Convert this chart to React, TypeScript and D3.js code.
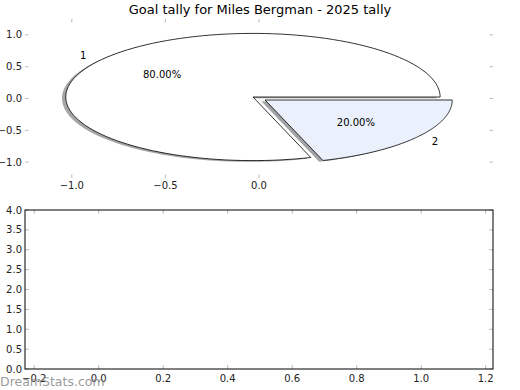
import * as d3 from 'd3';

const title = 'Goal tally for Miles Bergman - 2025 tally';
const sliceLabels = ['1', '2'];
const sliceValues = [4, 1];
const sliceColors = ['#ffffff', '#eaf0fc'];
const explode = [0.04, 0.04];

const pieXTicks = [-1.0, -0.5, 0.0];
const pieYTicks = [1.0, 0.5, 0.0, -0.5, -1.0];
const barXTicks = [-0.2, 0.0, 0.2, 0.4, 0.6, 0.8, 1.0, 1.2];
const barYTicks = [0.0, 0.5, 1.0, 1.5, 2.0, 2.5, 3.0, 3.5, 4.0];

const W = 520;
const H = 390;
const FONT = 'DejaVu Sans, sans-serif';
const TICK = '#bbbbbb';
const TXT = '#222222';

const top = { l: 25, r: 493, t: 19, b: 178 };
const bot = { l: 25, r: 493, t: 210, b: 369 };

function fmt(v: number) {
  return v.toFixed(1).replace('-', '\u2212');
}

function darker(c: string) {
  const col = d3.rgb(c);
  return d3.rgb(col.r * 0.3, col.g * 0.3, col.b * 0.3).toString();
}

export default function App() {
  const px = d3.scaleLinear().domain([-1.25, 1.25]).range([top.l, top.r]);
  const py = d3.scaleLinear().domain([-1.25, 1.25]).range([top.b, top.t]);
  const bx = d3.scaleLinear().domain([-0.2286, 1.2226]).range([bot.l, bot.r]);
  const by = d3.scaleLinear().domain([0, 4]).range([bot.b, bot.t]);

  const arcs = d3.pie<number>().sort(null).startAngle(0).endAngle(2 * Math.PI)(sliceValues);
  const total = d3.sum(sliceValues);

  const line = d3.line<[number, number]>()
    .x(d => px(d[0]))
    .y(d => py(d[1]));

  const wedges = arcs.map((a, i) => {
    const mid = (a.startAngle + a.endAngle) / 2;
    const ox = explode[i] * Math.cos(mid);
    const oy = explode[i] * Math.sin(mid);
    const pts: [number, number][] = [[ox, oy]];
    const n = 120;
    for (let k = 0; k <= n; k++) {
      const t = a.startAngle + (a.endAngle - a.startAngle) * k / n;
      pts.push([ox + Math.cos(t), oy + Math.sin(t)]);
    }
    const shadow = pts.map(p => [p[0] - 0.02, p[1] - 0.02] as [number, number]);
    return {
      d: line(pts) + 'Z',
      shadow: line(shadow) + 'Z',
      color: sliceColors[i],
      label: sliceLabels[i],
      lx: ox + 1.1 * Math.cos(mid),
      ly: oy + 1.1 * Math.sin(mid),
      pctx: ox + 0.6 * Math.cos(mid),
      pcty: oy + 0.6 * Math.sin(mid),
      pct: (100 * a.value / total).toFixed(2) + '%',
    };
  });

  return (
    <svg width={W} height={H} style={{ position: 'absolute', left: 0, top: 0, background: '#fff' }}>
      <rect width={W} height={H} fill="#fff" />
      <text x={W / 2} y={14} textAnchor="middle" fontFamily={FONT} fontSize={13} fill="#000">{title}</text>

      {/* pie axes: ticks only, no frame */}
      {pieXTicks.map(t => (
        <g key={'px' + t}>
          <line x1={px(t)} x2={px(t)} y1={top.t} y2={top.t + 3.5} stroke={TICK} strokeWidth={1} />
          <line x1={px(t)} x2={px(t)} y1={top.b} y2={top.b - 3.5} stroke={TICK} strokeWidth={1} />
          <text x={px(t)} y={top.b + 11} textAnchor="middle" fontFamily={FONT} fontSize={10} fill={TXT}>{fmt(t)}</text>
        </g>
      ))}
      {pieYTicks.map(t => (
        <g key={'py' + t}>
          <line x1={top.l} x2={top.l + 3.5} y1={py(t)} y2={py(t)} stroke={TICK} strokeWidth={1} />
          <line x1={top.r} x2={top.r - 3.5} y1={py(t)} y2={py(t)} stroke={TICK} strokeWidth={1} />
          <text x={top.l - 3} y={py(t)} dy="0.35em" textAnchor="end" fontFamily={FONT} fontSize={10} fill={TXT}>{fmt(t)}</text>
        </g>
      ))}

      {wedges.map((w, i) => (
        <path key={'s' + i} d={w.shadow} fill={darker(w.color)} fillOpacity={0.5} stroke="none" />
      ))}
      {wedges.map((w, i) => (
        <path key={'w' + i} d={w.d} fill={w.color} stroke="#000" strokeWidth={0.8} strokeLinejoin="miter" />
      ))}
      {wedges.map((w, i) => (
        <g key={'l' + i}>
          <text x={px(w.lx)} y={py(w.ly)} dy="0.35em" textAnchor={w.lx < 0 ? 'end' : 'start'} fontFamily={FONT} fontSize={10} fill="#000">{w.label}</text>
          <text x={px(w.pctx)} y={py(w.pcty)} dy="0.35em" textAnchor="middle" fontFamily={FONT} fontSize={10} fill="#000">{w.pct}</text>
        </g>
      ))}

      {/* empty bar axes */}
      {barXTicks.map(t => (
        <g key={'bx' + t}>
          <line x1={bx(t)} x2={bx(t)} y1={bot.t} y2={bot.t + 4} stroke={TICK} strokeWidth={1} />
          <line x1={bx(t)} x2={bx(t)} y1={bot.b} y2={bot.b - 4} stroke={TICK} strokeWidth={1} />
          <text x={bx(t)} y={bot.b + 13} textAnchor="middle" fontFamily={FONT} fontSize={10} fill={TXT}>{fmt(t)}</text>
        </g>
      ))}
      {barYTicks.map(t => (
        <g key={'by' + t}>
          <line x1={bot.l} x2={bot.l + 4} y1={by(t)} y2={by(t)} stroke={TICK} strokeWidth={1} />
          <line x1={bot.r} x2={bot.r - 4} y1={by(t)} y2={by(t)} stroke={TICK} strokeWidth={1} />
          <text x={bot.l - 3} y={by(t)} dy="0.35em" textAnchor="end" fontFamily={FONT} fontSize={10} fill={TXT}>{fmt(t)}</text>
        </g>
      ))}
      <rect x={bot.l} y={bot.t} width={bot.r - bot.l} height={bot.b - bot.t} fill="none" stroke="#000" strokeWidth={1} />

      <text x={0} y={386} fontFamily={FONT} fontSize={12.5} fill="#888" fillOpacity={0.85}>DreamStats.com</text>
    </svg>
  );
}
